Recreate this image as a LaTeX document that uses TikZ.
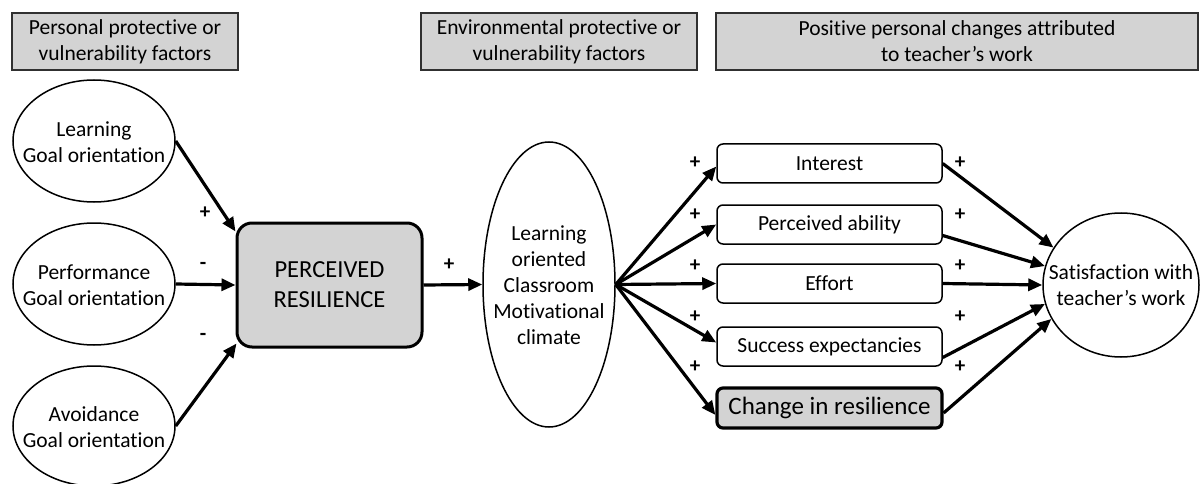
\documentclass[tikz,border=0pt]{standalone}
\usepackage{fontspec}
\setmainfont[Ligatures={NoCommon}]{Carlito}
\usetikzlibrary{shapes.geometric,arrows.meta,calc}
\definecolor{boxgrey}{HTML}{D3D3D3}
\definecolor{rimgrey}{HTML}{303030}

\begin{document}
\begin{tikzpicture}[x=1pt,y=-1pt,
  txt/.style={font=\fontsize{21.5}{26}\selectfont, align=center, inner sep=0pt},
  header/.style={draw=rimgrey, line width=1.8pt, fill=boxgrey, inner sep=0pt,
    minimum height=57pt, font=\fontsize{21.5}{26}\selectfont, align=center},
  oval/.style={draw, ellipse, line width=1.5pt, inner sep=0pt},
  item/.style={draw, rounded corners=6pt, line width=1.5pt, inner sep=0pt,
    minimum width=225pt, minimum height=39pt, fill=white,
    font=\fontsize{21.5}{26}\selectfont},
  keybox/.style={draw, rounded corners=15pt, line width=3pt, fill=boxgrey,
    inner sep=0pt, align=center, font=\fontsize{24.5}{30}\selectfont},
  arr/.style={line width=3.2pt, -{Triangle[length=14pt,width=12pt]}},
  sign/.style={font=\fontsize{21}{21}\selectfont\bfseries, inner sep=0pt}
]
\useasboundingbox (0,0) rectangle (1200,484);

% column headers
\node[header, minimum width=226pt] (h1) at (125,41.5)
  {Personal protective or\\vulnerability factors};
\node[header, minimum width=276pt] (h2) at (559,41.5)
  {Environmental protective or\\vulnerability factors};
\node[header, minimum width=482pt] (h3) at (957,41.5)
  {Positive personal changes attributed\\to teacher’s work};

% goal orientations
\node[oval, minimum width=162pt, minimum height=122pt] (lgo) at (94,141) {};
\node[txt] (lgot) at (94,142) {Learning\\Goal orientation};
\node[oval, minimum width=162pt, minimum height=122pt] (pgo) at (94,284) {};
\node[txt] (pgot) at (94,285) {Performance\\Goal orientation};
\node[oval, minimum width=162pt, minimum height=120pt] (ago) at (94,426) {};
\node[txt] (agot) at (94,427) {Avoidance\\Goal orientation};

% perceived resilience
\node[keybox, minimum width=185pt, minimum height=124pt] (pr) at (329.5,285)
  {PERCEIVED\\RESILIENCE};

% classroom climate
\node[oval, minimum width=132pt, minimum height=285pt] (clim) at (549,284.5) {};
\node[txt] (climt) at (549,285)
  {Learning\\oriented\\Classroom\\Motivational\\climate};

% personal changes
\node[item] (int) at (829.5,163.5) {Interest};
\node[item] (pab) at (829.5,224.5) {Perceived ability};
\node[item] (eff) at (829.5,283.5) {Effort};
\node[item] (suc) at (829.5,346.5) {Success expectancies};
\node[item, line width=3.2pt, fill=boxgrey, font=\fontsize{25}{26}\selectfont,
  minimum height=40pt] (chg) at (829.5,408) {Change in resilience};

% satisfaction
\node[oval, minimum width=156pt, minimum height=144pt] (sat) at (1121,285) {};
\node[txt] (satt) at (1121,285) {Satisfaction with\\teacher’s work};

% paths into perceived resilience
\draw[arr] (lgo.east) -- ($(pr.north west)+(0,10)$);
\draw[arr] (pgo.east) -- (pr.west);
\draw[arr] (ago.east) -- ($(pr.south west)+(1,-5)$);
\node[sign] (s1) at (205,213) {+};
\node[sign] (s2) at (203,266) {-};
\node[sign] (s3) at (203,337) {-};

% resilience to climate
\draw[arr] (pr.east) -- (clim.west);
\node[sign] (s4) at (449,265) {+};

% climate to personal changes
\draw[arr] (clim.east) -- ($(int.west)+(0,3)$);
\draw[arr] (clim.east) -- (pab.west);
\draw[arr] (clim.east) -- (eff.west);
\draw[arr] (clim.east) -- ($(suc.west)+(0,-4)$);
\draw[arr] (clim.east) -- ($(chg.west)+(0,7)$);
\foreach \y [count=\i] in {163,215,266,317,367}
  \node[sign] (sl\i) at (695,\y) {+};

% personal changes to satisfaction
\draw[arr] (int.east) -- (sat.151);
\draw[arr] ($(pab.east)+(0,11)$) -- (sat.166);
\draw[arr] (eff.east) -- (sat.west);
\draw[arr] ($(suc.east)+(0,11)$) -- (sat.194);
\draw[arr] ($(chg.east)+(0,5)$) -- (sat.206);
\foreach \y [count=\i] in {163,215,266,317,367}
  \node[sign] (sr\i) at (960,\y) {+};
\end{tikzpicture}
\end{document}
